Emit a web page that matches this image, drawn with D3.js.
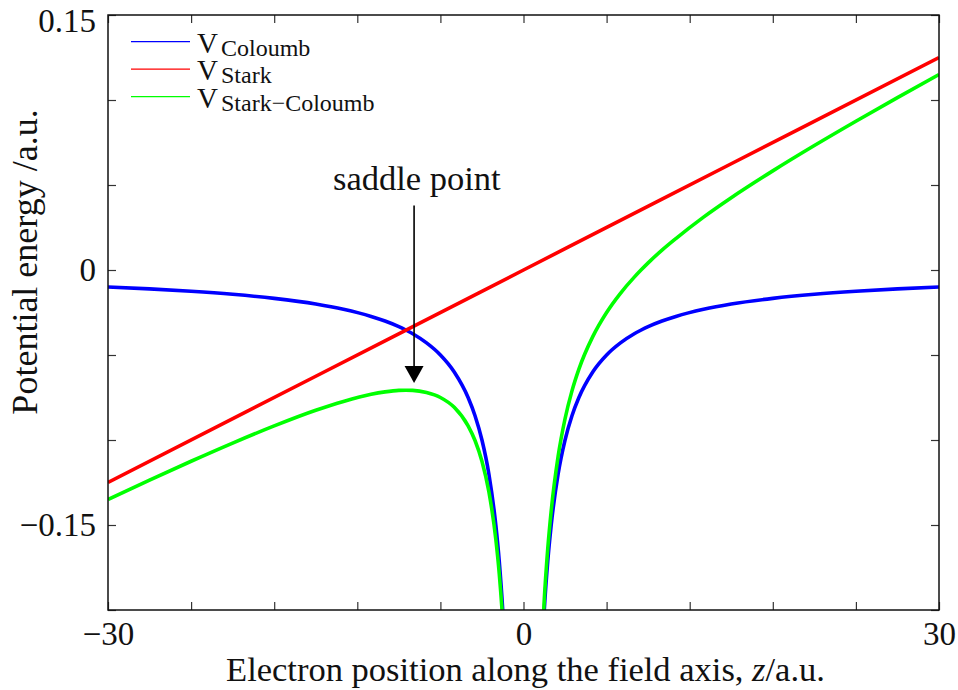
<!DOCTYPE html>
<html>
<head>
<meta charset="utf-8">
<script src="https://cdn.jsdelivr.net/npm/d3@7"></script>
<style>
  body { margin: 0; background: #fff; }
  text { font-family: "Liberation Serif", "DejaVu Serif", serif; fill: #111; }
</style>
</head>
<body>
<svg id="chart" width="958" height="690"></svg>
<script>
// Electron position along the field axis (a.u.) for the Coulomb-type curves
const zCoulomb = [-30, -27, -24, -21, -18, -15, -13, -11, -10, -9, -8.5, -8, -7, -6, -5, -4, -3.5, -3, -2.5, -2, -1.75, -1.5, -1.25,
                  1.25, 1.5, 1.75, 2, 2.5, 3, 3.5, 4, 5, 6, 7, 8, 8.5, 9, 10, 11, 13, 15, 18, 21, 24, 27, 30];
// Coulomb potential of the core
const vCoulomb = [-0.0100, -0.0111, -0.0125, -0.0143, -0.0167, -0.0200, -0.0231, -0.0273, -0.0300, -0.0333, -0.0353, -0.0375, -0.0429,
                  -0.0500, -0.0600, -0.0750, -0.0857, -0.1000, -0.1200, -0.1500, -0.1714, -0.2000, -0.2400,
                  -0.2400, -0.2000, -0.1714, -0.1500, -0.1200, -0.1000, -0.0857, -0.0750, -0.0600, -0.0500, -0.0429, -0.0375,
                  -0.0353, -0.0333, -0.0300, -0.0273, -0.0231, -0.0200, -0.0167, -0.0143, -0.0125, -0.0111, -0.0100];
// Combined Stark + Coulomb potential
const vStarkCoulomb = [-0.1350, -0.1236, -0.1125, -0.1018, -0.0917, -0.0825, -0.0773, -0.0731, -0.0717, -0.0708, -0.0707, -0.0708,
                       -0.0721, -0.0750, -0.0808, -0.0917, -0.1003, -0.1125, -0.1304, -0.1583, -0.1787, -0.2063, -0.2452,
                       -0.2348, -0.1937, -0.1641, -0.1417, -0.1096, -0.0875, -0.0711, -0.0583, -0.0392, -0.0250, -0.0137, -0.0042,
                       0.0001, 0.0042, 0.0117, 0.0185, 0.0311, 0.0425, 0.0583, 0.0732, 0.0875, 0.1014, 0.1150];
// Stark potential of the external field (straight line)
const zStark = [-30, -20, -10, 0, 10, 20, 30];
const vStark = [-0.125, -0.0833, -0.0417, 0, 0.0417, 0.0833, 0.125];

const xTicks = [-30, -24, -18, -12, -6, 0, 6, 12, 18, 24, 30];
const xTickLabels = [-30, 0, 30];
const yTicks = [-0.2, -0.15, -0.1, -0.05, 0, 0.05, 0.1, 0.15];
const yTickLabels = [-0.15, 0, 0.15];

const seriesNames = ["Coloumb", "Stark", "Stark\u2212Coloumb"];
const seriesColors = ["#0000ff", "#ff0000", "#00ff00"];

// saddle-point annotation: label anchor and arrow (data coordinates)
const annotationText = "saddle point";
const annotationLabel = { z: -7.7, v: 0.047 };
const annotationArrow = { z: -7.9, vFrom: 0.038, vTo: -0.0665 };

const svg = d3.select("#chart");
const margin = { left: 108, top: 15, right: 19, bottom: 80 };
const W = 958, H = 690;
const iw = W - margin.left - margin.right;
const ih = H - margin.top - margin.bottom;

const x = d3.scaleLinear().domain([-30, 30]).range([0, iw]);
const y = d3.scaleLinear().domain([-0.2, 0.15]).range([ih, 0]);

const g = svg.append("g").attr("transform", `translate(${margin.left},${margin.top})`);

svg.append("defs").append("clipPath").attr("id", "plotClip")
  .append("rect").attr("x", 0).attr("y", 0).attr("width", iw).attr("height", ih);

const fmt = d3.format(".2~f");
const labelOrBlank = (list) => (d) => list.some(v => Math.abs(v - d) < 1e-9) ? fmt(d) : "";

function styleAxis(sel) {
  sel.select(".domain").remove();
  sel.selectAll(".tick line").attr("stroke", "#333").attr("stroke-width", 1.2);
  sel.selectAll(".tick text").attr("font-size", 33).attr("fill", "#111")
     .attr("font-family", "Liberation Serif, serif");
}

g.append("g").attr("transform", `translate(0,${ih})`)
  .call(d3.axisBottom(x).tickValues(xTicks).tickSizeInner(-8).tickSizeOuter(0).tickPadding(12)
    .tickFormat(labelOrBlank(xTickLabels)))
  .call(styleAxis);
g.append("g")
  .call(d3.axisTop(x).tickValues(xTicks).tickSizeInner(-8).tickSizeOuter(0).tickFormat(""))
  .call(styleAxis);
const yAxisG = g.append("g")
  .call(d3.axisLeft(y).tickValues(yTicks).tickSizeInner(-8).tickSizeOuter(0).tickPadding(12)
    .tickFormat(labelOrBlank(yTickLabels)))
  .call(styleAxis);
// keep the top label inside the page
yAxisG.selectAll(".tick text").filter(d => Math.abs(d - 0.15) < 1e-9).attr("dy", "0.5em");
g.append("g").attr("transform", `translate(${iw},0)`)
  .call(d3.axisRight(y).tickValues(yTicks).tickSizeInner(-8).tickSizeOuter(0).tickFormat(""))
  .call(styleAxis);

// curves
const plot = g.append("g").attr("clip-path", "url(#plotClip)");
const line = d3.line().x(d => x(d[0])).y(d => y(d[1])).curve(d3.curveMonotoneX);

function branches(zs, vs) {
  const pts = zs.map((z, i) => [z, vs[i]]);
  return [pts.filter(p => p[0] < 0), pts.filter(p => p[0] > 0)];
}

const curves = [
  { parts: branches(zCoulomb, vCoulomb), color: seriesColors[0] },
  { parts: [zStark.map((z, i) => [z, vStark[i]])], color: seriesColors[1] },
  { parts: branches(zCoulomb, vStarkCoulomb), color: seriesColors[2] }
];
curves.forEach(c => {
  c.parts.forEach(p => {
    plot.append("path").datum(p).attr("d", line)
      .attr("fill", "none").attr("stroke", c.color).attr("stroke-width", 3.6)
      .attr("stroke-linejoin", "round");
  });
});

// frame
g.append("rect").attr("x", 0).attr("y", 0).attr("width", iw).attr("height", ih)
  .attr("fill", "none").attr("stroke", "#111").attr("stroke-width", 1.5);

// legend: line sample, then V with a subscript
const legend = g.append("g");
seriesNames.forEach((name, i) => {
  const ly = 26.7 + i * 27.5;
  legend.append("line").attr("x1", 23).attr("x2", 82).attr("y1", ly).attr("y2", ly)
    .attr("stroke", seriesColors[i]).attr("stroke-width", 1.2);
  legend.append("text").attr("x", 89).attr("y", ly + 11).attr("font-size", 29).text("V");
  legend.append("text").attr("x", 113).attr("y", ly + 14).attr("font-size", 24).text(name);
});

// saddle-point annotation
g.append("text").attr("x", x(annotationLabel.z)).attr("y", y(annotationLabel.v))
  .attr("text-anchor", "middle").attr("font-size", 34.5).text(annotationText);
const ax = x(annotationArrow.z);
const yTip = y(annotationArrow.vTo);
g.append("line").attr("x1", ax).attr("x2", ax)
  .attr("y1", y(annotationArrow.vFrom)).attr("y2", yTip - 14)
  .attr("stroke", "#000").attr("stroke-width", 1.6);
g.append("path")
  .attr("d", `M${ax - 9.5},${yTip - 17} L${ax + 9.5},${yTip - 17} L${ax},${yTip} Z`)
  .attr("fill", "#000");

// axis titles
const xt = svg.append("text").attr("x", margin.left + iw / 2 + 2).attr("y", 681)
  .attr("text-anchor", "middle").attr("font-size", 34.5);
xt.append("tspan").text("Electron position along the field axis, ");
xt.append("tspan").attr("font-style", "italic").text("z");
xt.append("tspan").text("/a.u.");

svg.append("text").attr("transform", "translate(37,262) rotate(-90)")
  .attr("text-anchor", "middle").attr("font-size", 36).text("Potential energy /a.u.");
</script>
</body>
</html>
